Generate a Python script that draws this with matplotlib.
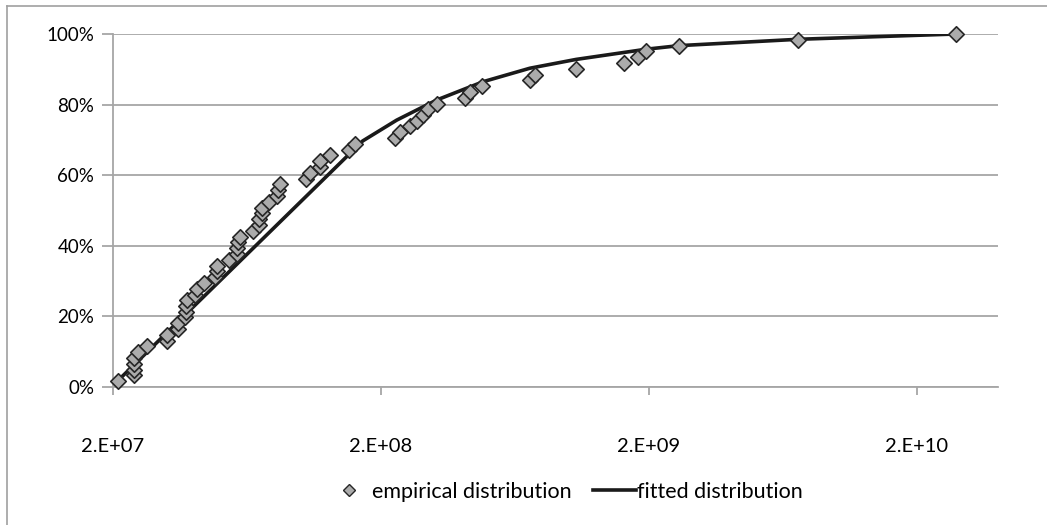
import matplotlib
matplotlib.use("Agg")
from matplotlib import pyplot as plt
from matplotlib.lines import Line2D
from matplotlib.ticker import FuncFormatter, NullLocator

plt.rcParams['font.family'] = ['Lato', 'DejaVu Sans']

# empirical distribution (x values, cumulative share)
emp_x = [2.08e7, 2.40e7, 2.40e7, 2.39e7, 2.39e7, 2.48e7, 2.67e7, 3.17e7, 3.17e7, 3.50e7,
         3.50e7, 3.71e7, 3.73e7, 3.73e7, 3.79e7, 4.05e7, 4.11e7, 4.37e7, 4.80e7, 4.88e7,
         4.88e7, 5.40e7, 5.79e7, 5.80e7, 5.87e7, 5.96e7, 6.64e7, 7.03e7, 7.03e7, 7.18e7,
         7.18e7, 7.66e7, 8.16e7, 8.28e7, 8.40e7, 1.05e8, 1.09e8, 1.18e8, 1.18e8, 1.29e8,
         1.52e8, 1.60e8, 2.25e8, 2.36e8, 2.57e8, 2.72e8, 2.86e8, 3.01e8, 3.23e8, 4.12e8,
         4.30e8, 4.78e8, 7.19e8, 7.51e8, 1.07e9, 1.61e9, 1.82e9, 1.96e9, 2.59e9, 7.21e9,
         2.80e10]
emp_y = [1.6, 3.3, 4.9, 6.6, 8.2, 9.8, 11.5, 13.1, 14.8, 16.4,
         18.0, 19.7, 21.3, 23.0, 24.6, 26.2, 27.9, 29.5, 31.1, 32.8,
         34.4, 36.1, 37.7, 39.3, 41.0, 42.6, 44.3, 45.9, 47.5, 49.2,
         50.8, 52.5, 54.1, 55.7, 57.4, 59.0, 60.7, 62.3, 63.9, 65.6,
         67.2, 68.9, 70.5, 72.1, 73.8, 75.4, 77.0, 78.7, 80.3, 82.0,
         83.6, 85.2, 86.9, 88.5, 90.2, 91.8, 93.4, 95.1, 96.7, 98.4,
         100.0]

# fitted distribution
fit_x = [2.08e7, 1.71e8, 2.29e8, 3.23e8, 4.82e8, 7.19e8, 1.07e9, 1.96e9, 2.59e9, 7.21e9, 2.80e10]
fit_y = [1.7, 69.7, 75.6, 81.3, 86.5, 90.3, 92.8, 95.7, 96.7, 98.5, 100.0]

x_ticks = [2e7, 2e8, 2e9, 2e10]
x_labels = ['2.E+07', '2.E+08', '2.E+09', '2.E+10']
y_ticks = [0, 20, 40, 60, 80, 100]

grid_color = '#a6a6a6'

fig = plt.figure(figsize=(10.47, 5.25), dpi=100)
ax = fig.add_axes([113 / 1047, 1 - 387 / 525, 885 / 1047, 353 / 525])

ax.plot(fit_x, fit_y, color='#1a1a1a', linewidth=2.6, zorder=3, solid_capstyle='round',
        label='fitted distribution')
ax.scatter(emp_x, emp_y, marker='D', s=62, facecolor='#ababab', edgecolor='#262626',
           linewidth=1.2, zorder=4, clip_on=False, label='empirical distribution')

ax.set_xscale('log')
ax.set_xlim(2e7, 4.02e10)
ax.set_ylim(0, 100)
ax.set_xticks(x_ticks)
ax.set_xticklabels(x_labels)
ax.xaxis.set_minor_locator(NullLocator())
ax.set_yticks(y_ticks)
ax.yaxis.set_major_formatter(FuncFormatter(lambda v, p: f'{v:.0f}%'))

ax.grid(axis='y', color=grid_color, linewidth=1.3)
ax.set_axisbelow(True)
for s in ['top', 'right']:
  ax.spines[s].set_visible(False)
for s in ['left', 'bottom']:
  ax.spines[s].set_color(grid_color)
  ax.spines[s].set_linewidth(1.3)
ax.tick_params(axis='both', colors=grid_color, labelcolor='black', width=1.3)
ax.tick_params(axis='y', length=8, pad=5.5, labelsize=13.5)
ax.tick_params(axis='x', length=6, pad=31, labelsize=14.5)

handles = [
  Line2D([], [], marker='D', linestyle='none', markersize=6.5, markerfacecolor='#ababab',
         markeredgecolor='#262626', markeredgewidth=1.0),
  Line2D([], [], color='#1a1a1a', linewidth=2.6),
]
fig.legend(handles, ['empirical distribution', 'fitted distribution'],
           loc='center', bbox_to_anchor=(565 / 1047, 1 - 492 / 525), ncol=2, frameon=False,
           fontsize=15.5, handlelength=2.0, handletextpad=0.05, columnspacing=1.0)

# chart area border
fig.add_artist(Line2D([7 / 1047, 1], [1 - 6 / 525, 1 - 6 / 525], transform=fig.transFigure,
                      color='#a0a0a0', linewidth=1.2))
fig.add_artist(Line2D([7 / 1047, 7 / 1047], [0, 1 - 6 / 525], transform=fig.transFigure,
                      color='#a0a0a0', linewidth=1.2))

fig.savefig('out.png', dpi=100)
